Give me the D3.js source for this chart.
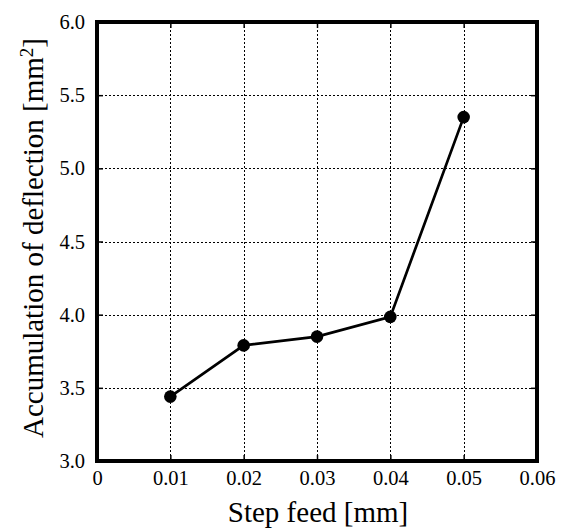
<!DOCTYPE html>
<html>
<head>
<meta charset="utf-8">
<script src="https://cdn.jsdelivr.net/npm/d3@7"></script>
<style>
  body { margin: 0; background: #fff; }
  svg { display: block; }
</style>
</head>
<body>
<svg id="chart"></svg>
<script>
'use strict';

const WIDTH = 564;
const HEIGHT = 530;
const MARGIN = { top: 22, right: 27, bottom: 69, left: 97 };
const FONT = "'Liberation Serif', 'Times New Roman', serif";

// data
const stepFeed = [0.01, 0.02, 0.03, 0.04, 0.05];
const deflection = [3.44, 3.79, 3.85, 3.985, 5.35];
const xTicks = [0, 0.01, 0.02, 0.03, 0.04, 0.05, 0.06];
const yTicks = [3.0, 3.5, 4.0, 4.5, 5.0, 5.5, 6.0];

const svg = d3.select("svg#chart")
              .attr("width", WIDTH)
              .attr("height", HEIGHT);

const xScale = d3.scaleLinear()
                 .domain([0, 0.06])
                 .range([MARGIN.left, WIDTH - MARGIN.right]);
const yScale = d3.scaleLinear()
                 .domain([3.0, 6.0])
                 .range([HEIGHT - MARGIN.bottom, MARGIN.top]);

const x0 = xScale.range()[0], x1 = xScale.range()[1];
const y0 = yScale.range()[0], y1 = yScale.range()[1];

// dotted grid
const grid = svg.append("g").attr("data-type", "grid")
                .attr("stroke", "#000")
                .attr("stroke-width", 1)
                .attr("stroke-dasharray", "2,2");
grid.selectAll("line.gx")
    .data(xTicks.slice(1, -1))
    .enter().append("line")
    .attr("x1", d => Math.round(xScale(d)) + 0.5)
    .attr("x2", d => Math.round(xScale(d)) + 0.5)
    .attr("y1", y1).attr("y2", y0);
grid.selectAll("line.gy")
    .data(yTicks.slice(1, -1))
    .enter().append("line")
    .attr("y1", d => Math.round(yScale(d)) + 0.5)
    .attr("y2", d => Math.round(yScale(d)) + 0.5)
    .attr("x1", x0).attr("x2", x1);

// inward ticks on all four sides
const tickFmtX = d => d === 0 ? "0" : d3.format(".2f")(d);
const tickFmtY = d3.format(".1f");

const xAxis = d3.axisBottom(xScale).tickValues(xTicks).tickFormat(tickFmtX)
                .tickSizeInner(-6).tickSizeOuter(0).tickPadding(9);
const yAxis = d3.axisLeft(yScale).tickValues(yTicks).tickFormat(tickFmtY)
                .tickSizeInner(-6).tickSizeOuter(0).tickPadding(12);

svg.append("g")
   .attr("data-type", "xAxis")
   .attr("transform", "translate(0," + y0 + ")")
   .call(xAxis);
svg.append("g")
   .attr("data-type", "yAxis")
   .attr("transform", "translate(" + x0 + ",0)")
   .call(yAxis);
svg.append("g")
   .attr("transform", "translate(0," + y1 + ")")
   .call(d3.axisTop(xScale).tickValues(xTicks).tickFormat("").tickSizeInner(-6).tickSizeOuter(0));
svg.append("g")
   .attr("transform", "translate(" + x1 + ",0)")
   .call(d3.axisRight(yScale).tickValues(yTicks).tickFormat("").tickSizeInner(-6).tickSizeOuter(0));

svg.selectAll(".domain").remove();
svg.selectAll(".tick line").attr("stroke", "#000").attr("stroke-width", 1.5);
svg.selectAll(".tick text")
   .style("font-family", FONT)
   .style("font-size", "20.5px")
   .attr("fill", "#000");

// frame
svg.append("rect")
   .attr("x", x0).attr("y", y1)
   .attr("width", x1 - x0).attr("height", y0 - y1)
   .attr("fill", "none")
   .attr("stroke", "#000")
   .attr("stroke-width", 4);

// data line and markers
svg.append("path")
   .datum(stepFeed.map((s, i) => ({ x: s, y: deflection[i] })))
   .attr("fill", "none")
   .attr("stroke", "#000")
   .attr("stroke-width", 2.7)
   .attr("d", d3.line().x(d => xScale(d.x)).y(d => yScale(d.y)));

svg.append("g")
   .selectAll("circle")
   .data(stepFeed)
   .enter().append("circle")
   .attr("cx", d => xScale(d))
   .attr("cy", (d, i) => yScale(deflection[i]))
   .attr("r", 6.3)
   .attr("fill", "#000");

// axis titles
svg.append("text")
   .attr("x", (x0 + x1) / 2 + 1)
   .attr("y", 522)
   .attr("text-anchor", "middle")
   .style("font-family", FONT)
   .style("font-size", "29px")
   .text("Step feed [mm]");

const yTitle = svg.append("text")
   .attr("transform", "translate(43,238) rotate(-90)")
   .attr("text-anchor", "middle")
   .style("font-family", FONT)
   .style("font-size", "29px");
yTitle.append("tspan").text("Accumulation of deflection [mm");
yTitle.append("tspan").attr("baseline-shift", "super").style("font-size", "19px").text("2");
yTitle.append("tspan").text("]");
</script>
</body>
</html>
